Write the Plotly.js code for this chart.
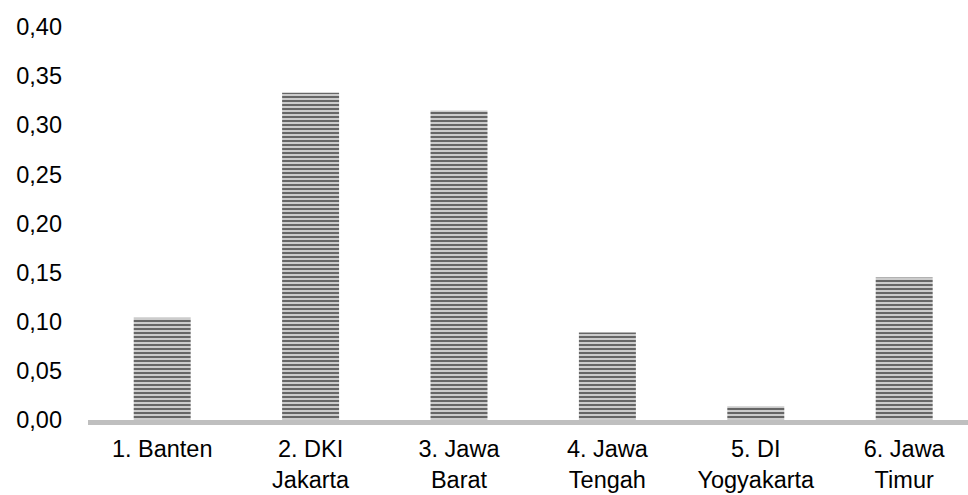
<!DOCTYPE html>
<html>
<head>
<meta charset="utf-8">
<script src="https://cdn.plot.ly/plotly-3.0.1.min.js"></script>
<style>html,body{margin:0;padding:0;background:#fff;}#chart{width:968px;height:495px;}</style>
</head>
<body>
<div id="chart"></div>
<script>
const categories = ["1. Banten", "2. DKI<br>Jakarta", "3. Jawa<br>Barat", "4. Jawa<br>Tengah", "5. DI<br>Yogyakarta", "6. Jawa<br>Timur"];
const values = [0.104, 0.333, 0.315, 0.089, 0.014, 0.145];
const yTicks = [0, 0.05, 0.10, 0.15, 0.20, 0.25, 0.30, 0.35, 0.40];

const trace = {
  type: "bar",
  x: categories,
  y: values,
  marker: {
    color: "#c8c8c8",
    line: {width: 0},
    pattern: {shape: "-", fgcolor: "#5a5a5a", bgcolor: "#cccccc", size: 4, solidity: 0.45}
  },
  hoverinfo: "skip"
};

const layout = {
  width: 968, height: 495,
  margin: {l: 88, r: 0, t: 27, b: 75},
  paper_bgcolor: "#ffffff", plot_bgcolor: "#ffffff",
  separators: ",.",
  showlegend: false,
  bargap: 0.616,
  font: {family: "Liberation Sans, Arial, sans-serif", size: 23.5, color: "#000000"},
  xaxis: {
    type: "category",
    range: [-0.5, 5.43],
    showline: true, linecolor: "#bfbfbf", linewidth: 5,
    showgrid: false, zeroline: false,
    ticks: "", ticklabelstandoff: 4,
    tickfont: {size: 23.5, color: "#000000"}
  },
  yaxis: {
    range: [0, 0.40],
    tickvals: yTicks,
    tickformat: ".2f",
    showgrid: false, zeroline: false, showline: false,
    ticks: "", ticklabelstandoff: 25,
    tickfont: {size: 23.5, color: "#000000"}
  }
};

Plotly.newPlot("chart", [trace], layout, {displayModeBar: false, staticPlot: true});
</script>
</body>
</html>
